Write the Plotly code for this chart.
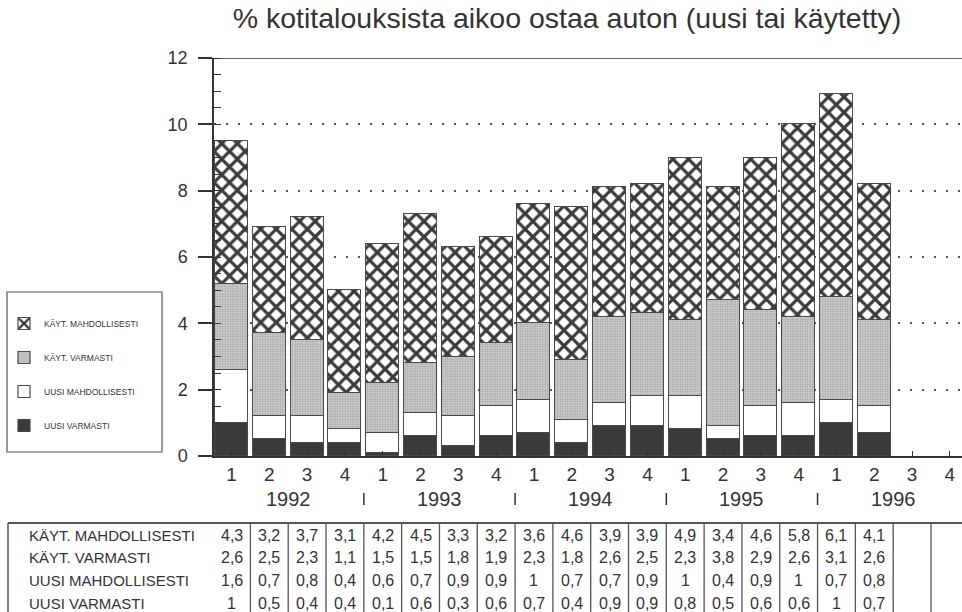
import plotly.graph_objects as go

# Quarterly survey: share of households planning to buy a car (%)
quarters = ["1", "2", "3", "4"] * 5
years = ["1992", "1993", "1994", "1995", "1996"]

kayt_mahdollisesti = [4.3, 3.2, 3.7, 3.1, 4.2, 4.5, 3.3, 3.2, 3.6, 4.6, 3.9, 3.9, 4.9, 3.4, 4.6, 5.8, 6.1, 4.1]
kayt_varmasti = [2.6, 2.5, 2.3, 1.1, 1.5, 1.5, 1.8, 1.9, 2.3, 1.8, 2.6, 2.5, 2.3, 3.8, 2.9, 2.6, 3.1, 2.6]
uusi_mahdollisesti = [1.6, 0.7, 0.8, 0.4, 0.6, 0.7, 0.9, 0.9, 1, 0.7, 0.7, 0.9, 1, 0.4, 0.9, 1, 0.7, 0.8]
uusi_varmasti = [1, 0.5, 0.4, 0.4, 0.1, 0.6, 0.3, 0.6, 0.7, 0.4, 0.9, 0.9, 0.8, 0.5, 0.6, 0.6, 1, 0.7]

title_text = "% kotitalouksista aikoo ostaa auton (uusi tai käytetty)"

INK = "#333333"
FONT = "Liberation Sans, Arial, Helvetica, sans-serif"

# page geometry (pixels) and helpers to place things in paper coordinates
W, H = 962, 612
ML, MR, MT, MB = 214, 0, 58, 156


def fx(px):
    return (px - ML) / (W - ML - MR)


def fy(py):
    return (H - MB - py) / (H - MT - MB)


def fmt(v):
    return f"{v:g}".replace(".", ",")


xs = list(range(len(kayt_mahdollisesti)))
slots = list(range(len(quarters)))

styles = {
    "UUSI VARMASTI": dict(color="#3a3a3a"),
    "UUSI MAHDOLLISESTI": dict(color="#ffffff"),
    "KÄYT. VARMASTI": dict(color="#c6c6c6",
                           pattern=dict(shape=".", fgcolor="#a2a2a2", bgcolor="#d6d6d6",
                                        size=2.5, solidity=0.45, fillmode="replace")),
    "KÄYT. MAHDOLLISESTI": dict(color="#ffffff",
                                pattern=dict(shape="x", fgcolor="#3a3a3a", bgcolor="#ffffff",
                                             size=11, solidity=0.5, fillmode="replace")),
}

# bottom-to-top stacking order, with the rank each series takes in the legend
stack = [
    ("UUSI VARMASTI", uusi_varmasti, 4),
    ("UUSI MAHDOLLISESTI", uusi_mahdollisesti, 3),
    ("KÄYT. VARMASTI", kayt_varmasti, 2),
    ("KÄYT. MAHDOLLISESTI", kayt_mahdollisesti, 1),
]

fig = go.Figure()
for name, vals, rank in stack:
    fig.add_trace(go.Bar(
        x=xs, y=vals, name=name, legendgroup=name, legendrank=rank, width=0.873,
        marker=dict(line=dict(color="#4a4a4a", width=1.2), **styles[name]),
        hoverinfo="skip",
    ))

shapes = []
annotations = []

# frame line along the top of the value axis
shapes.append(dict(type="line", xref="paper", yref="y", x0=0, x1=1, y0=12, y1=12,
                   line=dict(color=INK, width=1.5)))

# legend frame
shapes.append(dict(type="rect", xref="paper", yref="paper",
                   x0=fx(7), x1=fx(162), y0=fy(452), y1=fy(292),
                   line=dict(color="#555555", width=1.2)))

# year labels and separators under the quarter ticks
for k, yr in enumerate(years):
    annotations.append(dict(text=yr, xref="x", yref="paper", x=4 * k + 1.5, y=fy(499),
                            showarrow=False, font=dict(size=20, color=INK, family=FONT),
                            xanchor="center", yanchor="middle"))
    shapes.append(dict(type="line", xref="x", yref="paper", x0=4 * k - 0.5, x1=4 * k - 0.5,
                       y0=fy(493), y1=fy(505), line=dict(color=INK, width=1.5)))

# data table
table_top = 523
row_y = [535, 557.7, 580.3, 603]
table_rows = [
    ("KÄYT. MAHDOLLISESTI", kayt_mahdollisesti),
    ("KÄYT. VARMASTI", kayt_varmasti),
    ("UUSI MAHDOLLISESTI", uusi_mahdollisesti),
    ("UUSI VARMASTI", uusi_varmasti),
]
shapes.append(dict(type="line", xref="paper", yref="paper", x0=fx(8), x1=1,
                   y0=fy(table_top), y1=fy(table_top), line=dict(color="#555555", width=1.8)))
shapes.append(dict(type="line", xref="paper", yref="paper", x0=fx(8), x1=fx(8),
                   y0=fy(table_top), y1=fy(H + 5), line=dict(color="#555555", width=1.5)))
for s in slots:
    shapes.append(dict(type="line", xref="x", yref="paper", x0=s - 0.5, x1=s - 0.5,
                       y0=fy(table_top), y1=fy(H + 5), line=dict(color="#555555", width=1.3)))

for (label, vals), py in zip(table_rows, row_y):
    annotations.append(dict(text=label, xref="paper", yref="paper", x=fx(27), y=fy(py),
                            showarrow=False, xanchor="left", yanchor="middle",
                            font=dict(size=15, color=INK, family=FONT)))
    for x, v in zip(xs, vals):
        annotations.append(dict(text=fmt(v), xref="x", yref="paper", x=x, y=fy(py),
                                showarrow=False, xanchor="center", yanchor="middle",
                                font=dict(size=16, color=INK, family=FONT)))

fig.update_layout(
    width=W, height=H,
    margin=dict(l=ML, r=MR, t=MT, b=MB, pad=0),
    paper_bgcolor="white", plot_bgcolor="white",
    barmode="stack", bargap=0,
    font=dict(family=FONT, color=INK),
    title=dict(text=title_text, x=567 / W, y=1 - 18 / H, xanchor="center", yanchor="middle",
               xref="container", yref="container",
               font=dict(size=28.5, color=INK, family=FONT)),
    showlegend=True,
    legend=dict(x=fx(4), y=fy(309), xanchor="left", yanchor="top",
                traceorder="grouped", tracegroupgap=15,
                font=dict(size=8.5, color=INK, family=FONT),
                bgcolor="rgba(0,0,0,0)", borderwidth=0, itemclick=False, itemdoubleclick=False),
    xaxis=dict(range=[-0.463, 19.32], tickmode="array", tickvals=slots, ticktext=quarters,
               ticks="inside", ticklen=5, tickwidth=1.2, tickcolor=INK,
               showline=True, linecolor=INK, linewidth=1.5,
               showgrid=False, zeroline=False, fixedrange=True,
               tickfont=dict(size=19, color=INK, family=FONT)),
    yaxis=dict(range=[0, 12], tickmode="array", tickvals=[0, 2, 4, 6, 8, 10, 12],
               ticks="outside", ticklen=14, tickwidth=1.5, tickcolor=INK,
               ticklabelstandoff=7,
               showline=True, linecolor=INK, linewidth=1.5,
               showgrid=True, gridcolor="#555555", gridwidth=1.5, griddash="2px,10px",
               zeroline=False, fixedrange=True,
               minor=dict(dtick=0.5, ticks="inside", ticklen=7, tickwidth=1, tickcolor=INK,
                          showgrid=False),
               tickfont=dict(size=18, color=INK, family=FONT)),
    shapes=shapes,
    annotations=annotations,
)

fig.write_html("out.html", config={"displayModeBar": False})
